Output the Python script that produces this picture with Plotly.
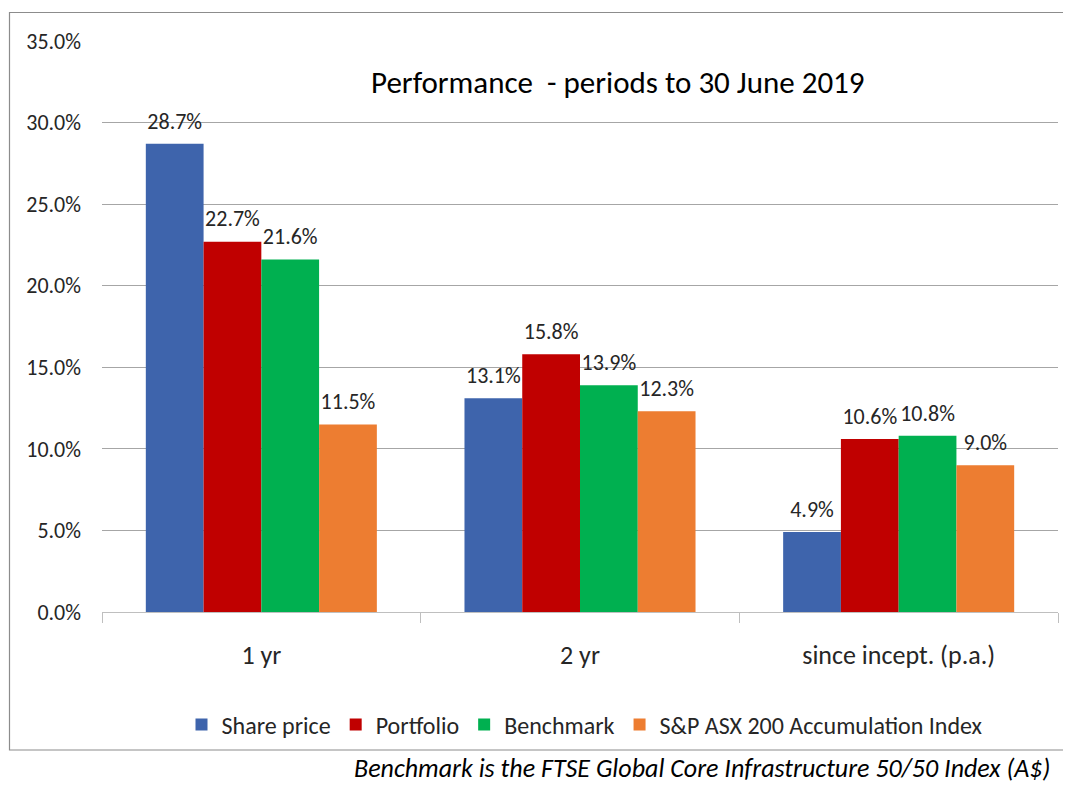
import plotly.graph_objects as go

categories = ["1 yr", "2 yr", "since incept. (p.a.)"]
series_names = ["Share price", "Portfolio", "Benchmark", "S&P ASX 200 Accumulation Index"]
share_price = [0.287, 0.131, 0.049]
portfolio = [0.227, 0.158, 0.106]
benchmark = [0.216, 0.139, 0.108]
asx200 = [0.115, 0.123, 0.090]
colors = ["#3E64AC", "#C00000", "#00B050", "#ED7D31"]
y_ticks = [0, 0.05, 0.10, 0.15, 0.20, 0.25, 0.30, 0.35]

title_text = "Performance  - periods to 30 June 2019"
footer_text = "Benchmark is the FTSE Global Core Infrastructure 50/50 Index (A$)"

FONT = "Carlito, Lato, sans-serif"
TXT = "#262626"
GAP = 0.275

fig = go.Figure()
all_series = [share_price, portfolio, benchmark, asx200]
for name, vals, col in zip(series_names, all_series, colors):
    fig.add_trace(go.Bar(
        name=name, x=categories, y=vals, offsetgroup=name,
        marker=dict(color=col, line=dict(width=0)),
    ))
for name, vals in zip(series_names, all_series):
    fig.add_trace(go.Scatter(
        name=name, x=categories, y=vals, offsetgroup=name, showlegend=False,
        mode="markers+text", marker=dict(size=14, opacity=0),
        texttemplate="%{y:.1%}", textposition="top center",
        textfont=dict(family=FONT, size=22, color=TXT),
        cliponaxis=False, hoverinfo="skip",
    ))

# page body has an 8px margin; work in reference pixel coords minus offset
O = 8
W, H = 1071 - O, 785 - O
L, R, T, B = 102 - O, 1058 - O, 41 - O, 612 - O


def px(x):
    return (x - O - L) / (R - L)


def py(y):
    return (B - (y - O)) / (B - T)


fig.update_layout(
    width=W, height=H,
    margin=dict(l=L, r=W - R, t=T, b=H - B, autoexpand=False),
    paper_bgcolor="white", plot_bgcolor="white",
    barmode="group", bargap=GAP, bargroupgap=0,
    scattermode="group", scattergap=GAP,
    font=dict(family=FONT, color=TXT, size=20),
    showlegend=True,
    legend=dict(
        orientation="h", x=px(585), xanchor="center", y=py(725), yanchor="middle",
        font=dict(family=FONT, size=24, color=TXT),
        itemwidth=30, itemsizing="constant", traceorder="normal",
        bgcolor="rgba(0,0,0,0)",
    ),
    xaxis=dict(
        showline=True, linecolor="#BFBFBF", linewidth=1,
        ticks="outside", tickson="boundaries", ticklen=10, tickcolor="#BFBFBF",
        tickfont=dict(family=FONT, size=26, color=TXT),
        ticklabelstandoff=20,
        showgrid=False, zeroline=False,
    ),
    yaxis=dict(
        range=[0, 0.35], tickvals=y_ticks, tickformat=".1%",
        showgrid=True, gridcolor="#A6A6A6", gridwidth=1,
        zeroline=False, showline=False, ticks="",
        tickfont=dict(family=FONT, size=22, color=TXT),
        ticklabelstandoff=20,
    ),
    shapes=[dict(type="rect", xref="paper", yref="paper",
                 x0=px(9.5), x1=px(1085),
                 y0=py(750), y1=py(12.5),
                 line=dict(color="#8C8C8C", width=1.2), fillcolor="rgba(0,0,0,0)", layer="below")],
    annotations=[
        dict(text=title_text, xref="paper", yref="paper",
             x=px(618), y=py(82), xanchor="center", yanchor="middle",
             showarrow=False, font=dict(family=FONT, size=31, color="#000000")),
        dict(text="<i>" + footer_text + "</i>", xref="paper", yref="paper",
             x=px(1051), y=py(785), xanchor="right", yanchor="bottom", borderpad=0,
             showarrow=False, font=dict(family=FONT, size=26, color="#000000")),
    ],
)

fig.write_html("out.html")
